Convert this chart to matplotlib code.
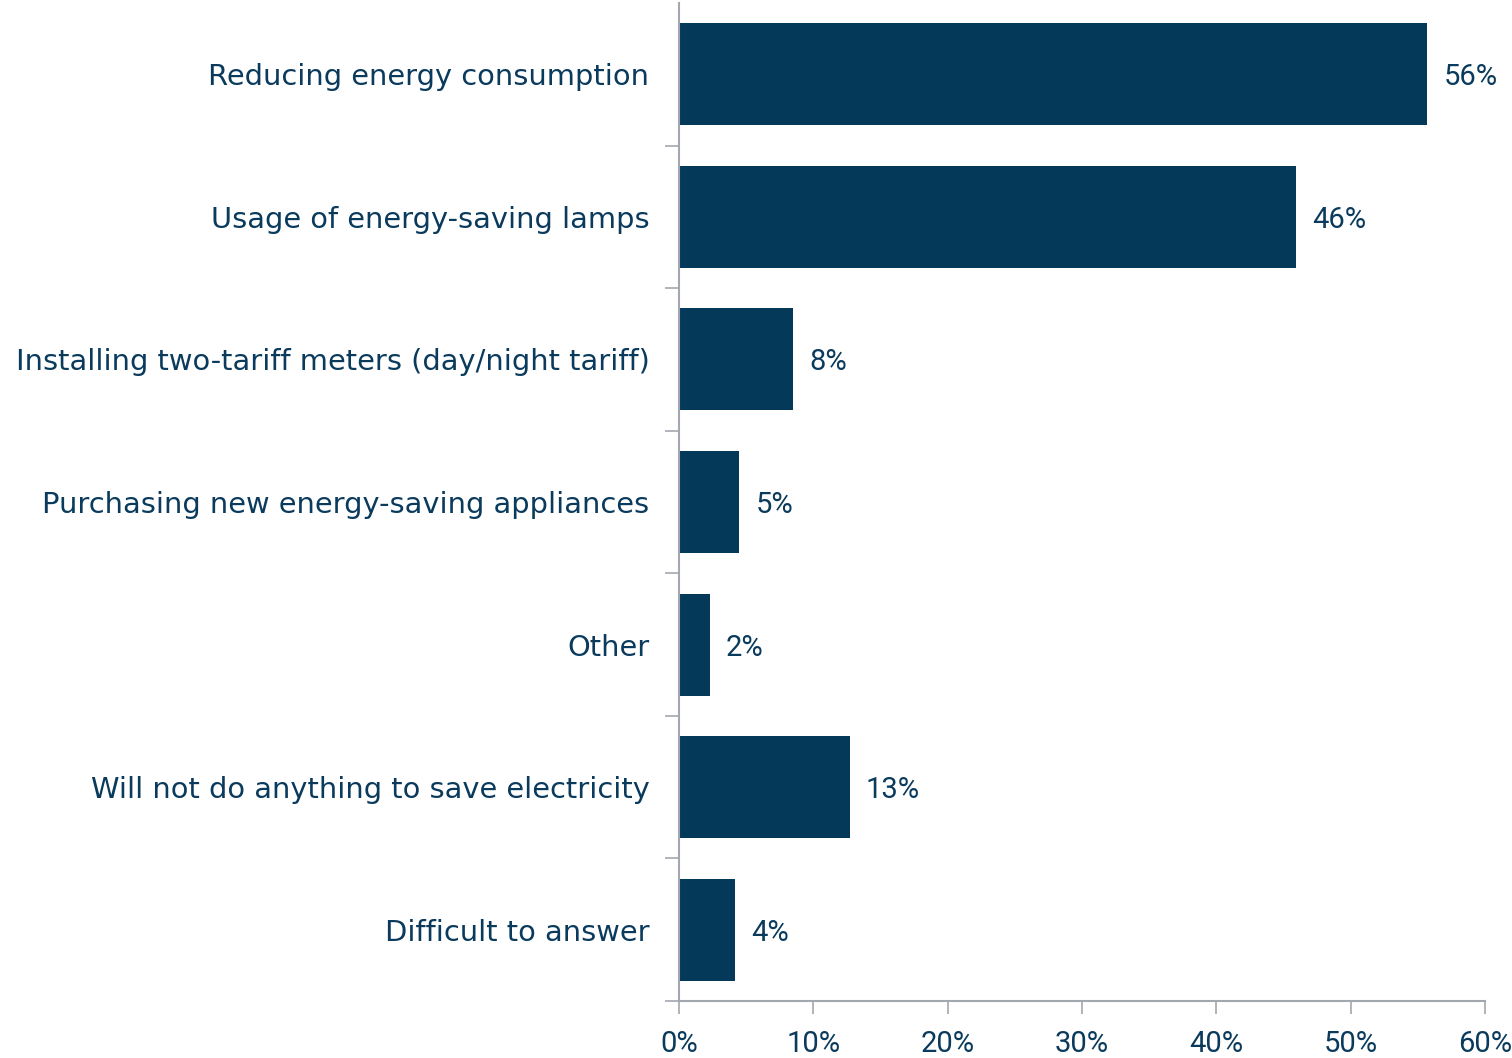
import matplotlib
matplotlib.use("Agg")
import matplotlib.pyplot as plt
import numpy as np
from matplotlib import font_manager

categories = [
    "Reducing energy consumption",
    "Usage of energy-saving lamps",
    "Installing two-tariff meters (day/night tariff)",
    "Purchasing new energy-saving appliances",
    "Other",
    "Will not do anything to save electricity",
    "Difficult to answer",
]
values = [55.7, 45.9, 8.5, 4.5, 2.3, 12.7, 4.2]
labels = ["56%", "46%", "8%", "5%", "2%", "13%", "4%"]
xticks = [0, 10, 20, 30, 40, 50, 60]
xticklabels = ["0%", "10%", "20%", "30%", "40%", "50%", "60%"]

bar_color = "#04395A"
text_color = "#0A3A5C"
axis_color = "#A3A7AE"

plt.rcParams['font.family'] = ['DejaVu Sans']

names = {f.name for f in font_manager.fontManager.ttflist}
num_family = ['DejaVu Sans Condensed'] if 'DejaVu Sans Condensed' in names else ['Roboto', 'DejaVu Sans']

fig = plt.figure(figsize=(15.12, 10.58), dpi=100)
ax = fig.add_axes([679/1512, 57/1058, (1485-679)/1512, (1001-3)/1058])

y = np.arange(len(categories))
ax.barh(y, values, height=0.715, color=bar_color)
ax.set_ylim(len(categories) - 0.5, -0.5)
ax.set_xlim(0, 60)

for yi, v, lab in zip(y, values, labels):
    ax.text(v + 1.2, yi, lab, va='center_baseline', ha='left', fontsize=21,
            color=text_color, family=num_family)

for yi, cat in zip(y, categories):
    ax.text(-2.2, yi, cat, va='center_baseline', ha='right', fontsize=20.8, color=text_color)

ax.set_yticks(np.arange(len(categories)) + 0.5)
ax.set_yticklabels([])
ax.tick_params(axis='y', length=10, width=1.2, color=axis_color, direction='out')
ax.set_xticks(xticks)
ax.set_xticklabels(xticklabels, fontsize=21, color=text_color, family=num_family)
ax.tick_params(axis='x', length=9, width=1.2, color=axis_color, direction='out', pad=12)

for s in ['top', 'right']:
    ax.spines[s].set_visible(False)
for s in ['left', 'bottom']:
    ax.spines[s].set_color(axis_color)
    ax.spines[s].set_linewidth(1.5)

fig.savefig("out.png", dpi=100)
